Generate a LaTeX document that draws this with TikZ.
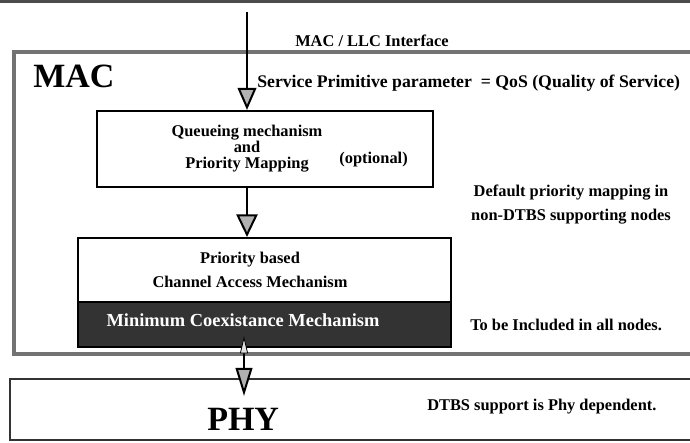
\documentclass[tikz,border=0pt]{standalone}
\usepackage{fontspec}
\setmainfont{Liberation Serif}
\usetikzlibrary{arrows.meta}

\begin{document}
\begin{tikzpicture}[x=0.75pt,y=0.75pt,yscale=-1,xscale=1,
  lbl/.style={font=\fontsize{12.3}{12}\selectfont\bfseries, inner sep=0pt},
  big/.style={font=\fontsize{25.5}{30}\selectfont\bfseries, inner sep=0pt},
  frame/.style={draw=black!55, line width=3pt},
  blk/.style={draw=black, line width=1.6pt, fill=white, inner sep=0pt},
  flow/.style={line width=1.5pt, -{Triangle[length=16.5pt,width=14pt,fill=black!30]}}]
\clip (0,0) rectangle (690,443);

%Top edge
\fill[black!70] (0,0) rectangle (690,3);

%Layer frames
\node[frame, minimum width=514.5pt, minimum height=226.5pt] (mac) at (357,203) {};
\node[draw=black!80, line width=1.6pt, minimum width=517.5pt, minimum height=45.75pt] (phy) at (355,409.5) {};

%Blocks
\node[blk, minimum width=252pt, minimum height=57pt] (queue) at (265,149) {};
\node[blk, minimum width=279.75pt, minimum height=48pt] (prio) at (264.5,270) {};
\node[blk, fill=black!80, minimum width=279.75pt, minimum height=33.75pt] (mcm) at (264.5,324.5) {};

%Connectors
\coordinate (src) at (247,12);
\coordinate (link) at (244,350);
\draw[flow] (src) -- (src |- queue.north);
\draw[line width=1.5pt, -{Triangle[length=17pt,width=16pt,fill=black!30]}] (queue.south -| src) -- (prio.north -| src);
\draw[line width=1.5pt, {Triangle[length=13pt,width=6pt,fill=black!12,line width=0.6pt]}-{Triangle[length=21pt,width=12.5pt,fill=black!30]}, shorten <=-9pt, shorten >=-13.5pt] (mcm.south -| link) -- (phy.north -| link);

%Texts
\node[big, anchor=base west] (mactitle) at (33,87) {MAC};
\node[big, anchor=base west] (phytitle) at (207,430) {PHY};
\node[lbl, anchor=west] (iface) at (295,41) {MAC / LLC Interface};
\node[lbl, font=\fontsize{13.3}{14}\selectfont\bfseries, anchor=base west] (qos) at (257,87) {Service Primitive parameter~ = QoS (Quality of Service)};
\node[lbl, align=center] (qtext) at (247,149) {Queueing mechanism\\and\\Priority Mapping};
\node[lbl, anchor=east] (opt) at (408,160) {(optional)};
\node[lbl, align=center] (ptext) at (250,270) {Priority based\\[6pt]Channel Access Mechanism};
\node[lbl, text=white, font=\fontsize{13.8}{14}\selectfont\bfseries] (mtext) at (243,320) {Minimum Coexistance Mechanism};
\node[lbl, align=center] (dflt) at (571,205) {Default priority mapping in\\[6pt]non-DTBS supporting nodes};
\node[lbl, anchor=west] (incl) at (470,325) {To be Included in all nodes.};
\node[lbl, anchor=west] (dtbs) at (427,407) {DTBS support is Phy dependent.};

\end{tikzpicture}
\end{document}
